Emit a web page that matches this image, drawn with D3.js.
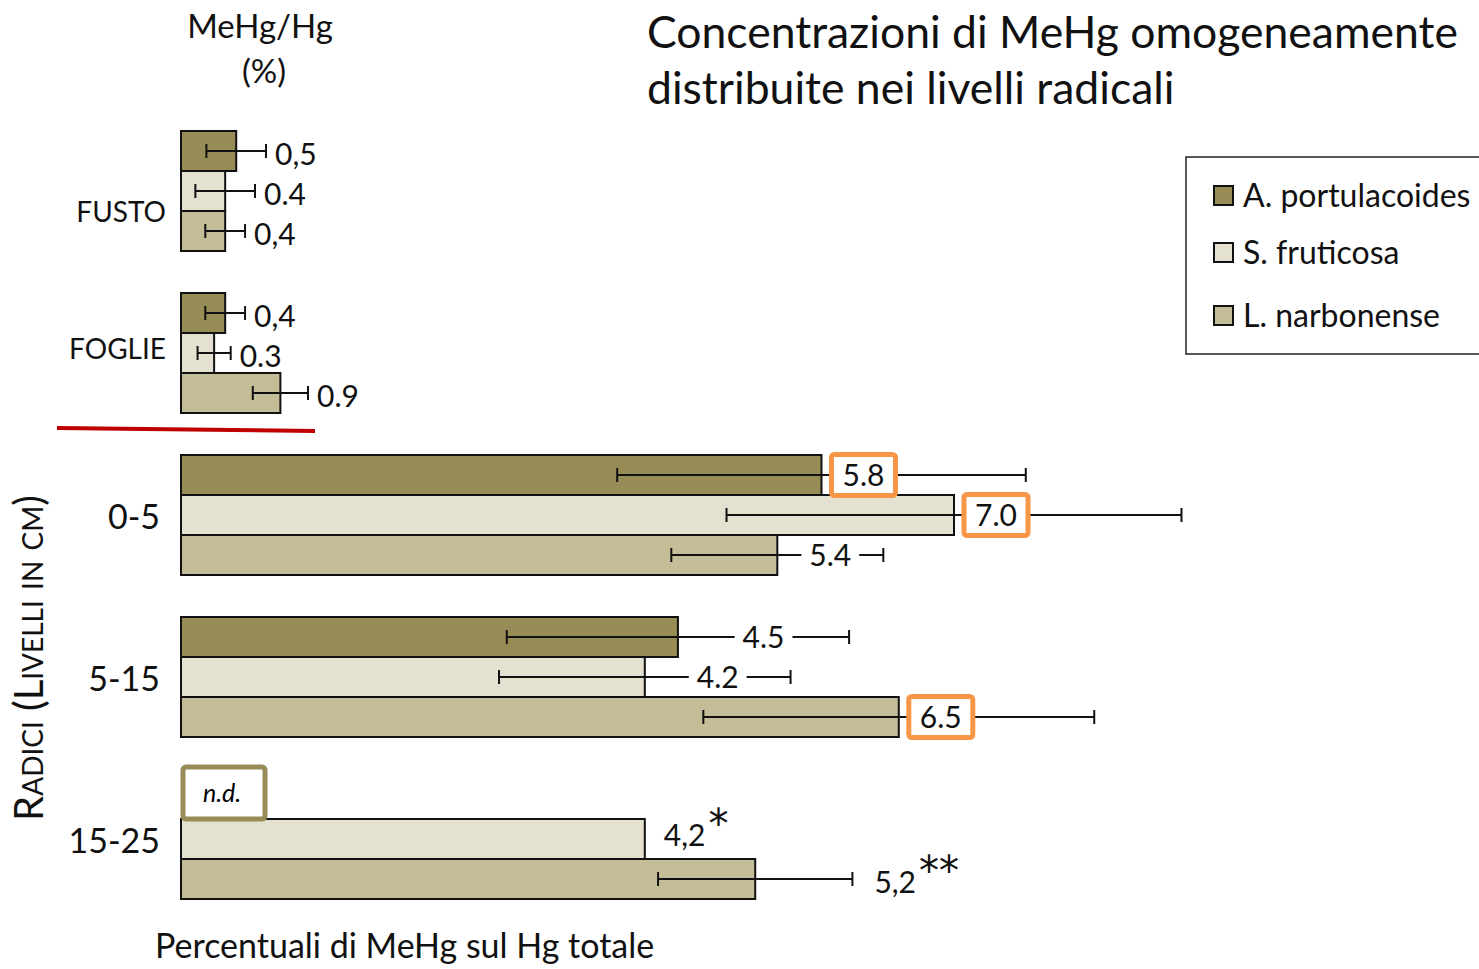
<!DOCTYPE html>
<html>
<head>
<meta charset="utf-8">
<script src="https://cdn.jsdelivr.net/npm/d3@7"></script>
<style>
  body { margin: 0; background: #fff; }
  svg { font-family: Lato, "Open Sans", sans-serif; }
</style>
</head>
<body>
<div id="chart"></div>
<script>
// categories and series
const groups = ["FUSTO", "FOGLIE", "0-5", "5-15", "15-25"];
const series = ["A. portulacoides", "S. fruticosa", "L. narbonense"];
const colors = ["#978c55", "#e4e1d1", "#c5bd98"];

// MeHg/Hg (%) per series, one value per group (null = n.d.)
const valuesA = [0.5, 0.4, 5.8, 4.5, null];
const valuesS = [0.4, 0.3, 7.0, 4.2, 4.2];
const valuesL = [0.4, 0.9, 5.4, 6.5, 5.2];

// error bar half widths
const errA = [0.27, 0.18, 1.85, 1.55, null];
const errS = [0.27, 0.15, 2.06, 1.32, null];
const errL = [0.18, 0.25, 0.96, 1.77, 0.88];

// labels as written on the chart
const labelsA = ["0,5", "0,4", "5.8", "4.5", "n.d."];
const labelsS = ["0.4", "0.3", "7.0", "4.2", "4,2*"];
const labelsL = ["0,4", "0.9", "5.4", "6.5", "5,2**"];

// values framed in orange
const highlighted = ["0-5|A. portulacoides", "0-5|S. fruticosa", "5-15|L. narbonense"];

const W = 1479, H = 969;

const svg = d3.select("#chart").append("svg")
    .attr("width", W)
    .attr("height", H);

const x = d3.scaleLinear().domain([0, 7]).range([181, 954]);
const yGroup = d3.scaleBand().domain(groups).range([131, 131 + 162 * 5]);
const ySeries = d3.scaleBand().domain(series).range([0, 120]);
const barH = 40;

let rows = [];
const vals = [valuesA, valuesS, valuesL];
const errs = [errA, errS, errL];
const labs = [labelsA, labelsS, labelsL];
groups.forEach((g, gi) => {
    series.forEach((s, si) => {
        rows.push({
            group: g, gi: gi, series: s, si: si,
            value: vals[si][gi], err: errs[si][gi], label: labs[si][gi],
            hl: highlighted.includes(g + "|" + s)
        });
    });
});

const yOf = d => yGroup(d.group) + ySeries(d.series);

// bars
svg.append("g").selectAll("rect")
    .data(rows.filter(d => d.value != null))
    .enter().append("rect")
    .attr("x", x(0))
    .attr("y", yOf)
    .attr("width", d => x(d.value) - x(0))
    .attr("height", barH)
    .attr("fill", d => colors[d.si])
    .attr("stroke", "#111")
    .attr("stroke-width", 2);

// error bars
let eb = svg.append("g").selectAll("g")
    .data(rows.filter(d => d.err != null))
    .enter().append("g")
    .attr("stroke", "#111")
    .attr("stroke-width", 2);
eb.append("line")
    .attr("x1", d => x(d.value - d.err)).attr("x2", d => x(d.value + d.err))
    .attr("y1", d => yOf(d) + barH / 2).attr("y2", d => yOf(d) + barH / 2);
eb.append("line")
    .attr("x1", d => x(d.value - d.err)).attr("x2", d => x(d.value - d.err))
    .attr("y1", d => yOf(d) + barH / 2 - 7).attr("y2", d => yOf(d) + barH / 2 + 7);
eb.append("line")
    .attr("x1", d => x(d.value + d.err)).attr("x2", d => x(d.value + d.err))
    .attr("y1", d => yOf(d) + barH / 2 - 7).attr("y2", d => yOf(d) + barH / 2 + 7);

// value labels
const labelG = svg.append("g").attr("font-size", 30).attr("fill", "#111");
rows.filter(d => d.value != null).forEach(d => {
    let cy = yOf(d) + barH / 2;
    let end = x(d.value);
    let errEnd = d.err != null ? x(d.value + d.err) : end;
    let top = d.gi < 2 || d.group === "15-25";
    let parts = d.label.match(/^([^*]*)(\*+)?$/);
    if (d.hl) {
        let bw = 64, bh = 41;
        labelG.append("rect")
            .attr("x", end + 10).attr("y", cy - bh / 2)
            .attr("width", bw).attr("height", bh)
            .attr("rx", 3)
            .attr("fill", "#fff")
            .attr("stroke", "#f79646").attr("stroke-width", 5);
        labelG.append("text")
            .attr("x", end + 10 + bw / 2).attr("y", cy)
            .attr("dy", "0.36em").attr("text-anchor", "middle")
            .text(d.label);
    } else if (top) {
        let t = labelG.append("text")
            .attr("x", errEnd + (d.err != null ? (d.gi < 2 ? 9 : 22) : 19))
            .attr("y", cy + (d.err != null ? 3 : -4))
            .attr("dy", "0.36em")
            .text(parts[1]);
        if (parts[2]) {
            t.append("tspan")
                .attr("font-family", "DejaVu Sans")
                .attr("font-size", 40)
                .attr("dx", 3)
                .attr("dy", -8)
                .text(parts[2]);
        }
    } else {
        let mx = (end + errEnd) / 2;
        let t = labelG.append("text")
            .attr("x", mx).attr("y", cy)
            .attr("dy", "0.36em").attr("text-anchor", "middle")
            .text(d.label);
        let bb = t.node().getBBox();
        labelG.insert("rect", function () { return t.node(); })
            .attr("x", bb.x - 8).attr("y", cy - 3)
            .attr("width", bb.width + 16).attr("height", 6)
            .attr("fill", "#fff");
    }
});

// n.d. box for missing values
rows.filter(d => d.value == null).forEach(d => {
    let y0 = yOf(d);
    svg.append("rect")
        .attr("x", x(0) + 2).attr("y", y0 - 12)
        .attr("width", 82).attr("height", 52)
        .attr("rx", 3)
        .attr("fill", "#fff")
        .attr("stroke", colors[0]).attr("stroke-width", 5);
    svg.append("text")
        .attr("x", x(0) + 41).attr("y", y0 + 14)
        .attr("dy", "0.36em").attr("text-anchor", "middle")
        .attr("font-size", 25).attr("font-style", "italic")
        .text(d.label);
});

// group labels
svg.append("g").selectAll("text")
    .data(groups)
    .enter().append("text")
    .attr("x", (d, i) => i < 2 ? 166 : 160)
    .attr("y", (d, i) => yGroup(d) + (i === 0 ? 81 : (i === 1 ? 56 : 62)))
    .attr("dy", "0.36em")
    .attr("text-anchor", "end")
    .attr("font-size", (d, i) => i < 2 ? 28 : 34)
    .attr("fill", "#111")
    .text(d => d);

// red separator between plant parts and roots
svg.append("line")
    .attr("x1", 57).attr("y1", 428)
    .attr("x2", 315).attr("y2", 431)
    .attr("stroke", "#c00000").attr("stroke-width", 4);

// column header
svg.append("text").attr("x", 260).attr("y", 38)
    .attr("text-anchor", "middle").attr("font-size", 33).attr("fill", "#111")
    .text("MeHg/Hg");
svg.append("text").attr("x", 264).attr("y", 83)
    .attr("text-anchor", "middle").attr("font-size", 33).attr("fill", "#111")
    .text("(%)");

// title
const title = svg.append("text").attr("font-size", 44.5).attr("fill", "#111");
title.append("tspan").attr("x", 647).attr("y", 48).text("Concentrazioni di MeHg omogeneamente");
title.append("tspan").attr("x", 647).attr("y", 104).text("distribuite nei livelli radicali");

// y axis title
svg.append("text")
    .attr("transform", "translate(43,658) rotate(-90)")
    .attr("text-anchor", "middle")
    .attr("font-size", 40)
    .attr("font-variant", "small-caps")
    .attr("fill", "#111")
    .text("Radici (Livelli in cm)");

// x axis title
svg.append("text").attr("x", 155).attr("y", 958)
    .attr("font-size", 34).attr("fill", "#111")
    .text("Percentuali di MeHg sul Hg totale");

// legend
const lg = svg.append("g");
lg.append("rect")
    .attr("x", 1186).attr("y", 157)
    .attr("width", 320).attr("height", 197)
    .attr("fill", "#fff").attr("stroke", "#222").attr("stroke-width", 1.5);
const legY = [195, 252, 315];
series.forEach((s, i) => {
    lg.append("rect")
        .attr("x", 1214).attr("y", legY[i] - 9)
        .attr("width", 19).attr("height", 19)
        .attr("fill", colors[i]).attr("stroke", "#111").attr("stroke-width", 2);
    lg.append("text")
        .attr("x", 1243).attr("y", legY[i])
        .attr("dy", "0.36em")
        .attr("font-size", 32).attr("fill", "#111")
        .text(s);
});
</script>
</body>
</html>
